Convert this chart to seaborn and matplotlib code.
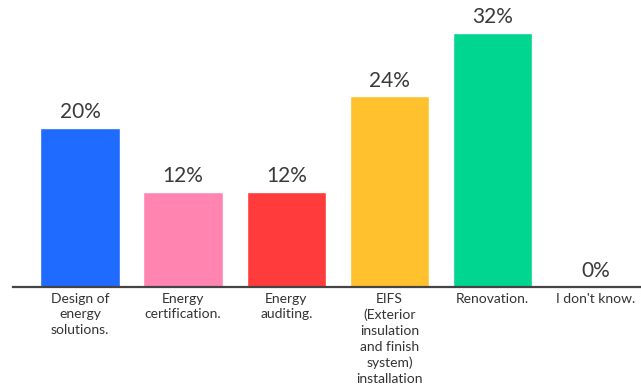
import matplotlib
matplotlib.use("Agg")
import matplotlib.pyplot as plt
import seaborn as sns
import pandas as pd

categories = [
    "Design of\nenergy\nsolutions.",
    "Energy\ncertification.",
    "Energy\nauditing.",
    "EIFS\n(Exterior\ninsulation\nand finish\nsystem)\ninstallation",
    "Renovation.",
    "I don't know.",
]
values = [20, 12, 12, 24, 32, 0]
colors = ["#1f6bff", "#ff85b0", "#ff3b3b", "#ffc12e", "#00d68f", "#cccccc"]

sns.set_theme(style="white")
plt.rcParams["font.family"] = ["Lato", "DejaVu Sans"]

df = pd.DataFrame({"category": categories, "value": values})

fig = plt.figure(figsize=(6.41, 3.85), dpi=100)
ax = fig.add_axes([13 / 641, 98 / 385, 1 - 13 / 641, 287 / 385])

sns.barplot(data=df, x="category", y="value", hue="category", palette=colors,
            legend=False, width=0.77, saturation=1, ax=ax)

for i, v in enumerate(values):
    ax.annotate(f"{v}%", (i, v), xytext=(0, 4), textcoords="offset points",
                ha="center", va="bottom", fontsize=15, color="#3a3a3a")

ax.set_xlim(-0.65, 5.44)
ax.set_ylim(0, 36.1)
ax.set_xlabel("")
ax.set_ylabel("")
ax.set_yticks([])
for s in ["top", "right", "left"]:
    ax.spines[s].set_visible(False)
ax.spines["bottom"].set_color("#444444")
ax.spines["bottom"].set_linewidth(1.6)
ax.tick_params(axis="x", length=0, pad=4, labelsize=10, colors="#333333")
for lbl in ax.get_xticklabels():
    lbl.set_linespacing(1.38)
    lbl.set_verticalalignment("top")

fig.savefig("out.png", dpi=100)
